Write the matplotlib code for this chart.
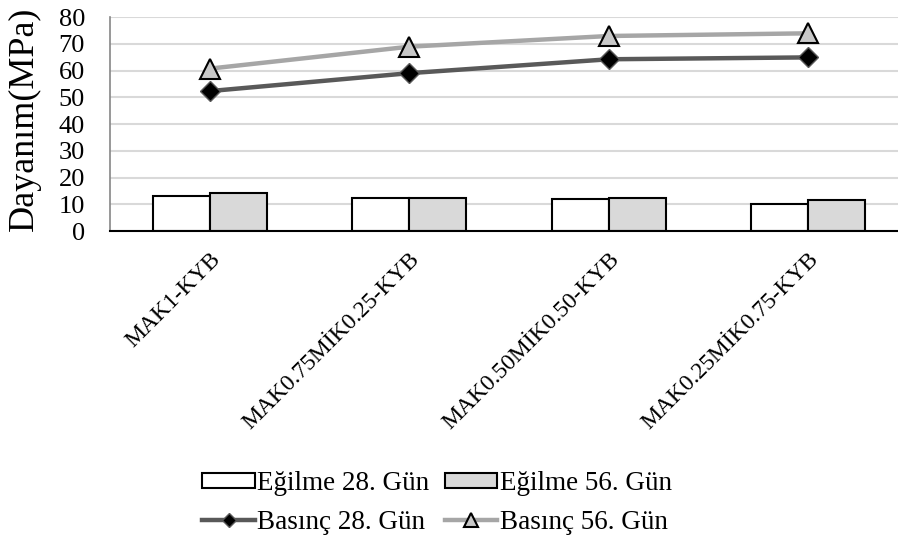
import matplotlib.pyplot as plt
from matplotlib.lines import Line2D
import numpy as np

categories = ["MAK1-KYB", "MAK0.75MİK0.25-KYB", "MAK0.50MİK0.50-KYB", "MAK0.25MİK0.75-KYB"]
egilme_28 = [13.1, 12.2, 11.8, 10.0]
egilme_56 = [14.1, 12.5, 12.2, 11.7]
basinc_28 = [52.3, 59.0, 64.2, 64.9]
basinc_56 = [60.7, 68.9, 72.9, 73.9]

plt.rcParams['font.family'] = ['Liberation Serif', 'DejaVu Serif']

fig = plt.figure(figsize=(8.98, 5.46), dpi=100)
ax = fig.add_axes([110 / 898, 1 - 231 / 546, 798 / 898, 214 / 546])

x = np.arange(len(categories))
w = 0.285
b1 = ax.bar(x - w / 2, egilme_28, w, color="white", edgecolor="black", linewidth=1.5, zorder=3)
b2 = ax.bar(x + w / 2, egilme_56, w, color="#d9d9d9", edgecolor="black", linewidth=1.5, zorder=3)
ax.plot(x, basinc_28, color="#595959", lw=3.2, marker="D", ms=10,
        mfc="black", mec="#595959", mew=1, zorder=4)
ax.plot(x, basinc_56, color="#a6a6a6", lw=3.2, marker="^", ms=14,
        mfc="#c8c8c8", mec="black", mew=1.5, zorder=4)

ax.set_xlim(-0.5, 3.5)
ax.set_ylim(0, 80)
ax.set_yticks(range(0, 81, 10))
ax.tick_params(axis="y", labelsize=19, length=0, pad=18)
ax.tick_params(axis="x", labelsize=17, length=0, pad=13)
ax.set_xticks(x)
ax.set_xticklabels(categories, rotation=45, ha="right", rotation_mode="anchor")
ax.grid(axis="y", color="#d9d9d9", lw=1.5, zorder=0)
for s in ["top", "right"]:
    ax.spines[s].set_visible(False)
ax.spines["left"].set_color("#868686")
ax.spines["left"].set_linewidth(1.2)
ax.spines["bottom"].set_linewidth(1.5)
ax.spines["bottom"].set_zorder(5)
fig.text(24 / 898, 1 - 119 / 546, "Dayanım(MPa)", rotation=90, ha="center", va="center", fontsize=26)

# legend proxies with smaller markers, like the original
h3 = Line2D([], [], color="#595959", lw=3.2, marker="D", ms=7, mfc="black", mec="#595959")
h4 = Line2D([], [], color="#a6a6a6", lw=3.2, marker="^", ms=10, mfc="#c8c8c8", mec="black", mew=1.5)

fig.legend([b1, h3, b2, h4],
           ["Eğilme 28. Gün", "Basınç 28. Gün", "Eğilme 56. Gün", "Basınç 56. Gün"],
           loc="center", bbox_to_anchor=(437 / 898, 1 - 503 / 546), ncol=2,
           frameon=False, fontsize=19.5, labelspacing=0.5, columnspacing=0.6,
           handlelength=1.93, handleheight=0.45, handletextpad=0.08, borderpad=0)

fig.savefig("out.png", dpi=100)
